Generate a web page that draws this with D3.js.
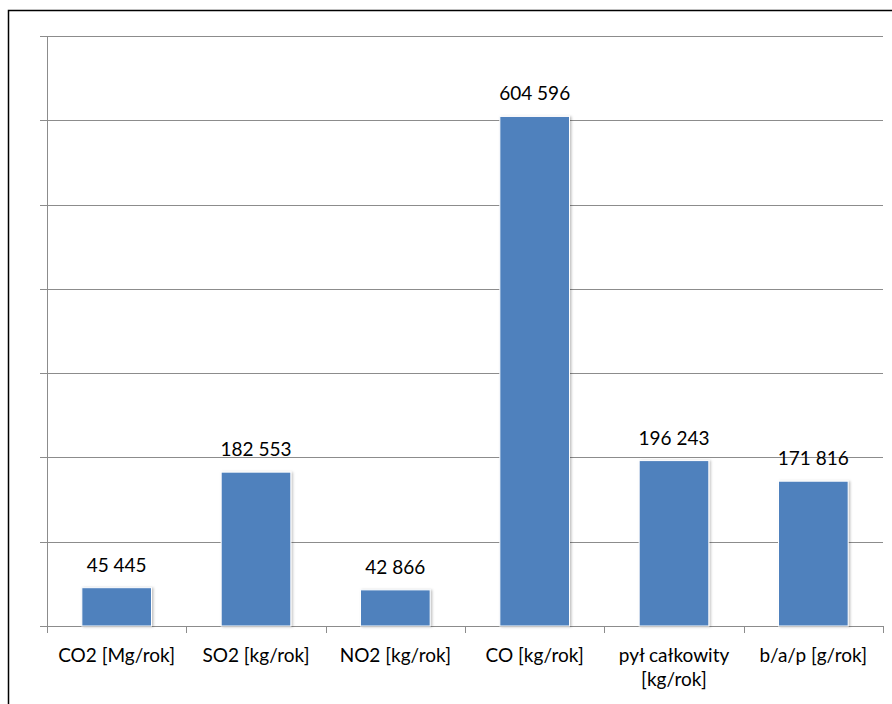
<!DOCTYPE html>
<html><head><meta charset="utf-8">
<script src="https://cdn.jsdelivr.net/npm/d3@7"></script>
<style>body{margin:0;background:#fff}svg{display:block}</style>
</head><body>
<svg id="c" width="892" height="704"></svg>
<script>
const categories = [["CO2 [Mg/rok]"],["SO2 [kg/rok]"],["NO2 [kg/rok]"],["CO [kg/rok]"],["pył całkowity","[kg/rok]"],["b/a/p [g/rok]"]];
const values = [45445, 182553, 42866, 604596, 196243, 171816];
const labels = ["45 445","182 553","42 866","604 596","196 243","171 816"];
const yTicks = [0,100000,200000,300000,400000,500000,600000,700000];

const svg = d3.select("#c");
const font = "Lato, 'Open Sans', sans-serif";
svg.append("rect").attr("x",8.5).attr("y",10.5).attr("width",900).attr("height",720)
  .attr("fill","#fff").attr("stroke","#000").attr("stroke-width",1.5);

const defs = svg.append("defs");
const f = defs.append("filter").attr("id","sh").attr("x","-10%").attr("y","-10%").attr("width","130%").attr("height","130%");
f.append("feDropShadow").attr("dx",1.5).attr("dy",0.5).attr("stdDeviation",1.2).attr("flood-color","#000").attr("flood-opacity",0.25);

const L=47, R=883, T=36, B=626;
const x = d3.scaleBand().domain(d3.range(categories.length)).range([L,R]).paddingInner(0.5).paddingOuter(0.25);
const y = d3.scaleLinear().domain([0,700000]).range([B,T]);

// gridlines
svg.append("g").selectAll("line").data(yTicks.slice(1)).join("line")
  .attr("x1",40).attr("x2",R).attr("y1",d=>Math.round(y(d))+0.5).attr("y2",d=>Math.round(y(d))+0.5)
  .attr("stroke","#8c8c8c").attr("stroke-width",1);
// y axis
svg.append("line").attr("x1",L+0.5).attr("x2",L+0.5).attr("y1",T).attr("y2",B).attr("stroke","#8c8c8c");
// x axis
svg.append("line").attr("x1",40).attr("x2",R).attr("y1",B+0.5).attr("y2",B+0.5).attr("stroke","#8c8c8c");
// category ticks
const step = (R-L)/categories.length;
svg.append("g").selectAll("line").data(d3.range(categories.length+1)).join("line")
  .attr("x1",i=>Math.round(L+i*step)+0.5).attr("x2",i=>Math.round(L+i*step)+0.5)
  .attr("y1",B).attr("y2",B+7).attr("stroke","#8c8c8c");

// bars
svg.append("g").selectAll("rect").data(values).join("rect")
  .attr("x",(d,i)=>x(i)).attr("width",x.bandwidth())
  .attr("y",d=>y(d)).attr("height",d=>B-y(d))
  .attr("fill","#4f81bd").attr("stroke","#fff").attr("stroke-width",1)
  .attr("filter","url(#sh)");

// value labels
svg.append("g").selectAll("text").data(values).join("text")
  .attr("x",(d,i)=>x(i)+x.bandwidth()/2).attr("y",d=>y(d)-16)
  .attr("text-anchor","middle").attr("font-family",font).attr("font-size",19).attr("fill","#000")
  .text((d,i)=>labels[i]);

// category labels
const cg = svg.append("g").selectAll("text").data(categories).join("text")
  .attr("x",(d,i)=>x(i)+x.bandwidth()/2).attr("y",662)
  .attr("text-anchor","middle").attr("font-family",font).attr("font-size",19).attr("fill","#000");
cg.selectAll("tspan").data(d=>d).join("tspan")
  .attr("x",function(){return this.parentNode.getAttribute("x");})
  .attr("dy",(d,j)=>j===0?0:24).text(d=>d);
</script>
</body></html>
